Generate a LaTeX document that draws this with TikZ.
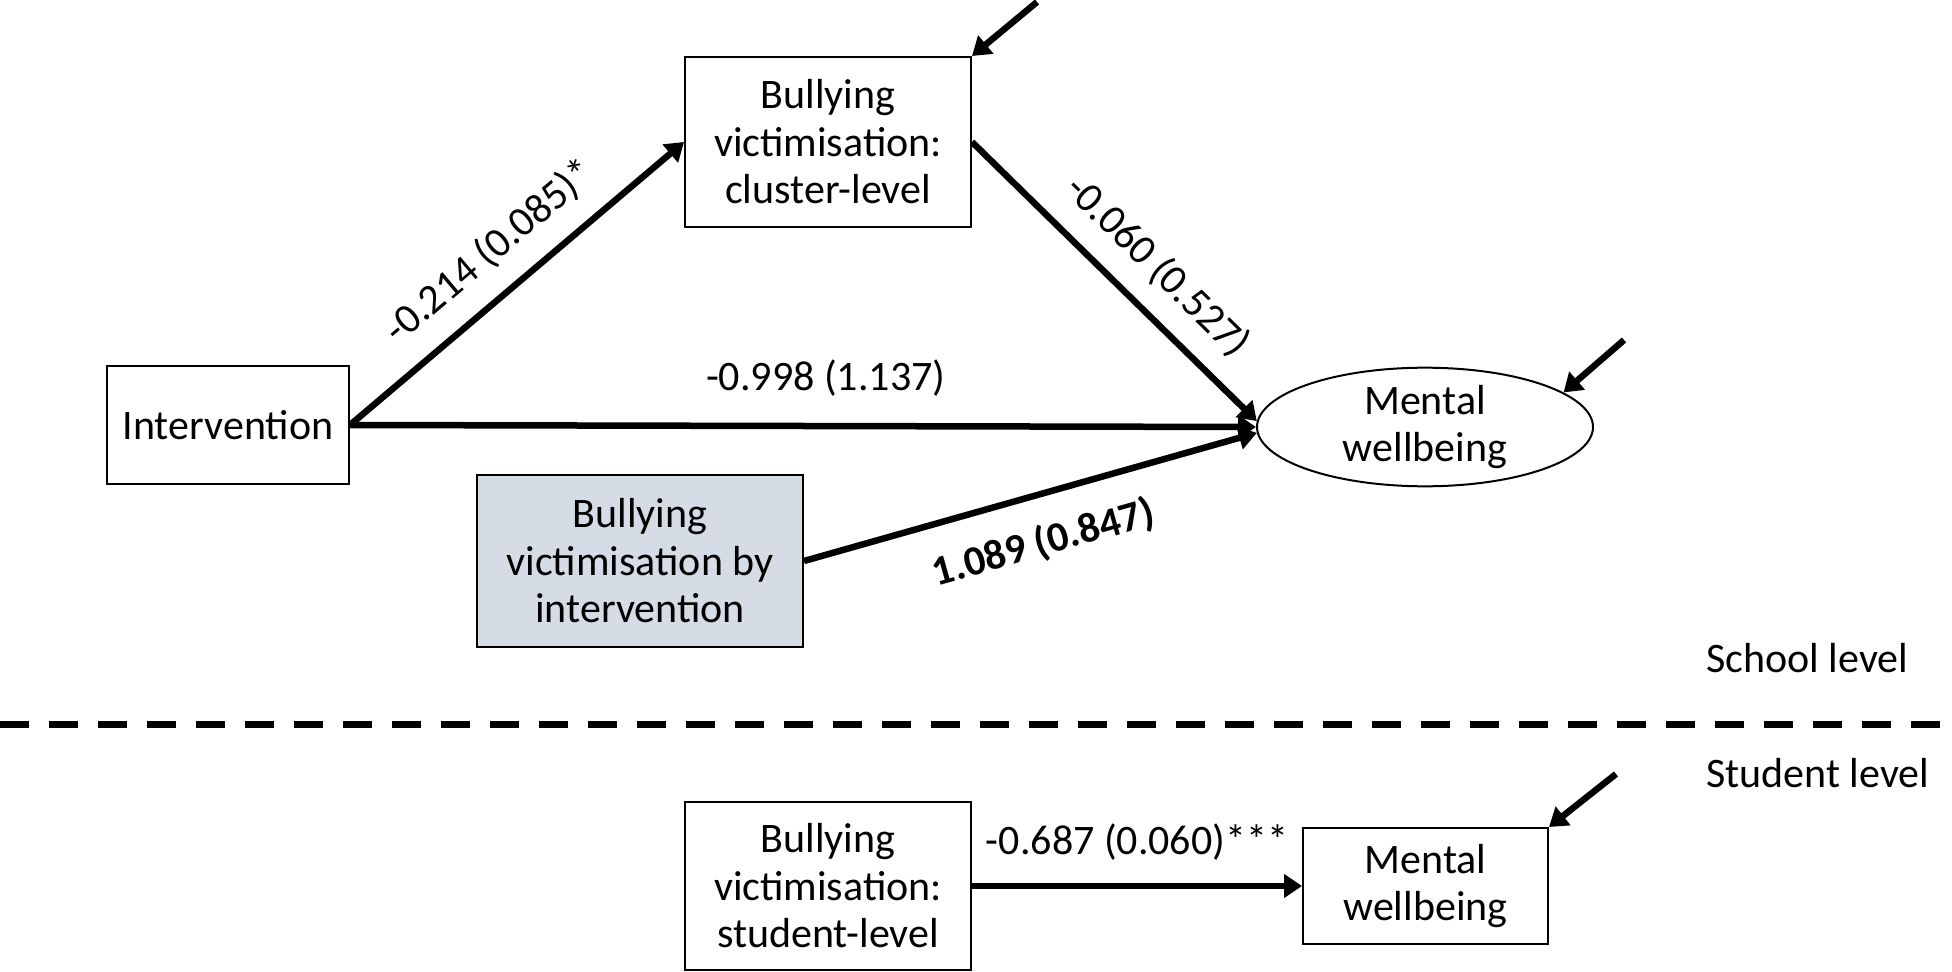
\documentclass[tikz,border=0pt]{standalone}
\usepackage{fontspec}
\setmainfont{Carlito}
\usepackage{tikz}
\usetikzlibrary{arrows.meta}
\usetikzlibrary{shapes,positioning}
\tikzset{>={Triangle[length=9pt,width=11.5pt]}}
\definecolor{boxFill}{HTML}{D6DCE5}
\colorlet{penColor}{black}

\begin{document}
\begin{tikzpicture}[x=0.5pt,y=-0.5pt,
  every node/.style={font=\fontsize{21}{23.75}\selectfont},
  var/.style={draw=penColor,line width=1pt,align=center,inner sep=0pt},
  path/.style={->,draw=penColor,line width=3.25pt},
  coef/.style={sloped,anchor=center,inner sep=0pt}]

  \useasboundingbox (0,0) rectangle (1952,972);

  % school level
  \node [var,minimum width=143pt,minimum height=85pt] (cluster) at (828,142)
    {Bullying\\victimisation:\\cluster-level};
  \node [var,minimum width=121pt,minimum height=59pt] (interv) at (228,425)
    {Intervention};
  \node [var,fill=boxFill,minimum width=163pt,minimum height=86pt] (inter) at (640,561)
    {Bullying\\victimisation by\\intervention};
  \node [var,ellipse,minimum width=168pt,minimum height=57pt] (wellS) at (1425,427)
    {Mental\\wellbeing};

  \coordinate (e1) at (1037,2);
  \coordinate (e2) at (1624,340);

  \draw [path] (interv.east) -- (cluster.west)
    node [pos=0.5,above=21pt,coef] {-0.214 (0.085)*};
  \draw [path] (cluster.east) -- (wellS.178)
    node [pos=0.55,above=20.5pt,coef] {-0.060 (0.527)};
  \draw [path] (interv.east) -- (wellS.west)
    node [pos=0.525,above=24pt,coef] {-0.998 (1.137)};
  \draw [path] (inter.east) -- (wellS.182)
    node [pos=0.5,below=24pt,coef,font=\fontsize{21}{23.75}\selectfont\bfseries] {1.089 (0.847)};

  \draw [path] (e1) -- (cluster.north east);
  \draw [path] (e2) -- (wellS.14);

  % levels
  \draw [penColor,line width=3.5pt,dash pattern=on 14.25pt off 10.25pt] (0,724) -- (1952,724);
  \node [anchor=west,inner sep=0pt] (school) at (1706,658) {School level};
  \node [anchor=west,inner sep=0pt] (stud) at (1706,773) {Student level};

  % student level
  \node [var,minimum width=143pt,minimum height=84pt] (student) at (828,886)
    {Bullying\\victimisation:\\student-level};
  \node [var,minimum width=122.5pt,minimum height=58pt] (wellP) at (1425.5,886)
    {Mental\\wellbeing};

  \coordinate (e3) at (1616,774);

  \draw [path] (student.east) -- (wellP.west)
    node [midway,above=22pt,coef] {-0.687 (0.060)***};
  \draw [path] (e3) -- (wellP.north east);

\end{tikzpicture}
\end{document}
